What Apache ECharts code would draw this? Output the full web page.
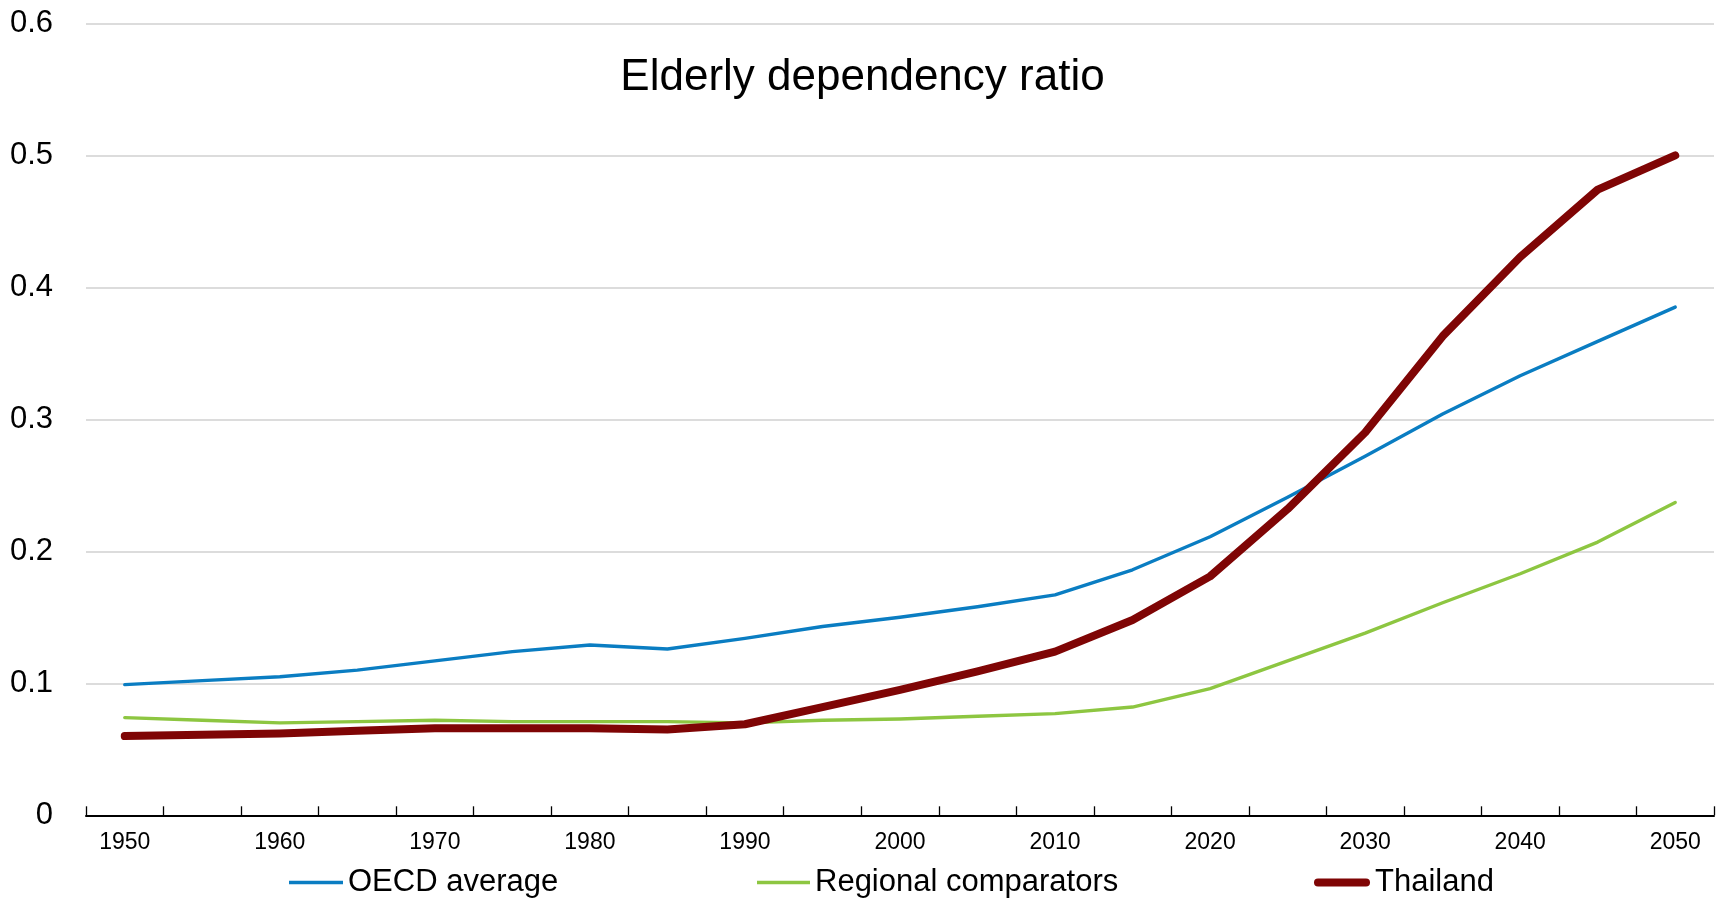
<!DOCTYPE html>
<html>
<head>
<meta charset="utf-8">
<script src="https://cdn.jsdelivr.net/npm/echarts@6/dist/echarts.min.js"></script>
<style>
html,body{margin:0;padding:0;background:#fff;}
#chart{width:1725px;height:904px;}
</style>
</head>
<body>
<div id="chart"></div>
<script>
const years = ['1950','1955','1960','1965','1970','1975','1980','1985','1990','1995','2000','2005','2010','2015','2020','2025','2030','2035','2040','2045','2050'];
const oecdAverage = [0.099,0.102,0.105,0.110,0.117,0.124,0.129,0.126,0.134,0.143,0.150,0.158,0.167,0.186,0.211,0.241,0.272,0.304,0.333,0.359,0.385];
const regionalComparators = [0.074,0.072,0.070,0.071,0.072,0.071,0.071,0.071,0.070,0.072,0.073,0.075,0.077,0.082,0.096,0.117,0.138,0.161,0.183,0.207,0.237];
const thailand = [0.060,0.061,0.062,0.064,0.066,0.066,0.066,0.065,0.069,0.082,0.095,0.109,0.124,0.148,0.181,0.232,0.290,0.363,0.423,0.474,0.500];
const yTickLabels = ['0','0.1','0.2','0.3','0.4','0.5','0.6'];
const seriesNames = ['OECD average','Regional comparators','Thailand'];
const titleText = 'Elderly dependency ratio';

const FONT = '"Liberation Sans Narrow", "Arial Narrow", "Liberation Sans", Arial, sans-serif';
const legendLefts = [289, 757, 1314];
const legendIcons = ['rect', 'rect', 'path://M4,0L52,0A4,4,0,0,1,52,8L4,8A4,4,0,0,1,4,0Z'];
const legendIconH = [3.5, 3.5, 8];
const legendIconW = [54, 53, 56];

const chart = echarts.init(document.getElementById('chart'), null, {renderer:'canvas'});
chart.setOption({
  animation:false,
  backgroundColor:'#ffffff',
  title:{
    text:titleText, left:'center', top:51,
    textStyle:{fontFamily:FONT, fontSize:44, fontWeight:'normal', color:'#000'}
  },
  legend: seriesNames.map((n, i) => ({
    data:[{name:n, icon:legendIcons[i]}], left:legendLefts[i], top:867, padding:0,
    itemGap:0, itemWidth:legendIconW[i], itemHeight:legendIconH[i],
    textStyle:{fontFamily:FONT, fontSize:31, color:'#000'}
  })),
  grid:{left:86, right:11, top:23.3, bottom:88.7, containLabel:false},
  xAxis:{
    type:'category', data:years, boundaryGap:true,
    axisLine:{lineStyle:{color:'#000', width:2}},
    axisTick:{show:true, inside:true, length:9, interval:0, lineStyle:{color:'#000', width:1.3}},
    axisLabel:{interval:1, margin:16, fontFamily:FONT, fontSize:23, color:'#000'},
    splitLine:{show:false}
  },
  yAxis:{
    type:'value', min:0, max:0.6, interval:0.1,
    axisLine:{show:false}, axisTick:{show:false},
    axisLabel:{margin:33, fontFamily:FONT, fontSize:31, color:'#000',
      formatter:(v)=>yTickLabels[Math.round(v*10)]},
    splitLine:{lineStyle:{color:'#d0d0d0', width:1.5}}
  },
  series:[
    {name:seriesNames[0], type:'line', data:oecdAverage, symbol:'none', color:'#0a7dc2',
     lineStyle:{width:3.4, color:'#0a7dc2', cap:'round', join:'round'}, z:2},
    {name:seriesNames[1], type:'line', data:regionalComparators, symbol:'none', color:'#8dc641',
     lineStyle:{width:3.4, color:'#8dc641', cap:'round', join:'round'}, z:1},
    {name:seriesNames[2], type:'line', data:thailand, symbol:'none', color:'#7f0505',
     lineStyle:{width:8, color:'#7f0505', cap:'round', join:'round'}, z:3}
  ]
});
</script>
</body>
</html>
